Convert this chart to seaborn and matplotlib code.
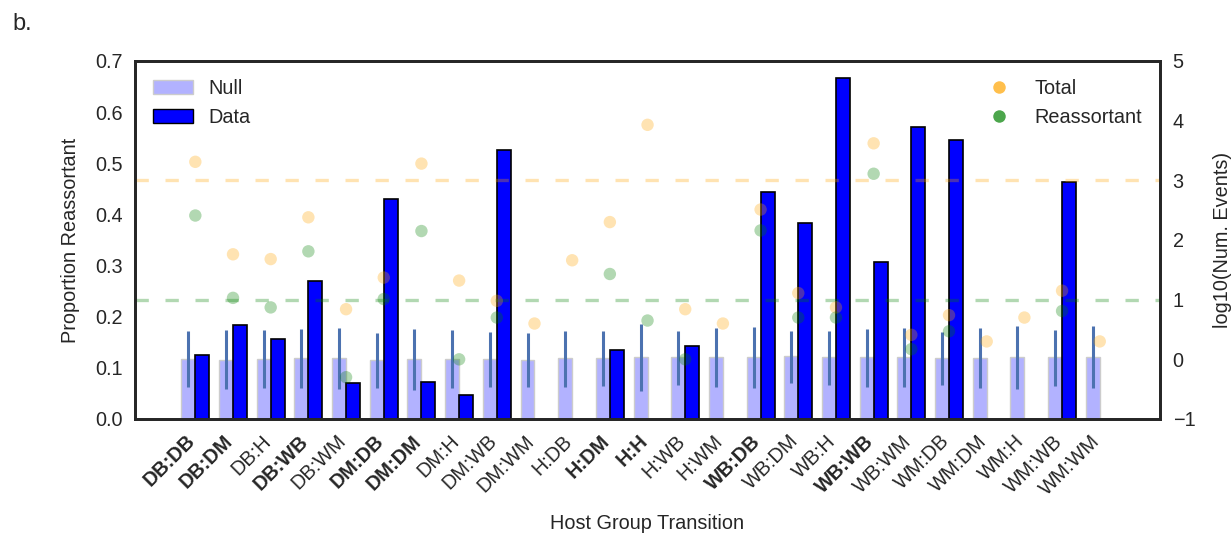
import numpy as np
import pandas as pd
import matplotlib
matplotlib.use("Agg")
import matplotlib.pyplot as plt
from matplotlib.lines import Line2D
from matplotlib.patches import Patch
import seaborn as sns

# Host group transitions (source:destination)
transitions = ["DB:DB", "DB:DM", "DB:H", "DB:WB", "DB:WM",
               "DM:DB", "DM:DM", "DM:H", "DM:WB", "DM:WM",
               "H:DB", "H:DM", "H:H", "H:WB", "H:WM",
               "WB:DB", "WB:DM", "WB:H", "WB:WB", "WB:WM",
               "WM:DB", "WM:DM", "WM:H", "WM:WB", "WM:WM"]
significant = ["DB:DB", "DB:DM", "DB:WB", "DM:DB", "DM:DM",
               "H:DM", "H:H", "WB:DB", "WB:WB"]

# Proportion reassortant under the null model, with its interval
null_prop = [0.117, 0.116, 0.117, 0.119, 0.119, 0.115, 0.117, 0.117, 0.117, 0.115,
             0.119, 0.119, 0.121, 0.121, 0.121, 0.122, 0.123, 0.121, 0.121, 0.121,
             0.119, 0.120, 0.121, 0.121, 0.122]
null_low = [0.062, 0.059, 0.061, 0.061, 0.059, 0.061, 0.057, 0.061, 0.063, 0.063,
            0.063, 0.065, 0.055, 0.066, 0.063, 0.061, 0.071, 0.066, 0.063, 0.063,
            0.066, 0.061, 0.059, 0.065, 0.060]
null_high = [0.172, 0.174, 0.174, 0.176, 0.177, 0.168, 0.176, 0.174, 0.170, 0.168,
             0.173, 0.172, 0.185, 0.173, 0.177, 0.180, 0.173, 0.173, 0.176, 0.177,
             0.170, 0.177, 0.182, 0.174, 0.182]

# Observed proportion reassortant (NaN where no events were observed)
data_prop = [0.125, 0.184, 0.157, 0.269, 0.071, 0.431, 0.072, 0.046, 0.526, np.nan,
             np.nan, 0.134, np.nan, 0.143, np.nan, 0.443, 0.384, 0.666, 0.306, 0.571,
             0.545, np.nan, np.nan, 0.463, np.nan]

# log10 of event counts
log_total = [3.31, 1.76, 1.68, 2.38, 0.84, 1.37, 3.28, 1.32, 0.98, 0.60,
             1.66, 2.30, 3.93, 0.84, 0.60, 2.51, 1.11, 0.87, 3.62, 0.41,
             0.74, 0.30, 0.70, 1.15, 0.30]
log_reassortant = [2.41, 1.03, 0.87, 1.81, -0.30, 1.01, 2.15, 0.00, 0.70, np.nan,
                   np.nan, 1.43, 0.65, 0.00, np.nan, 2.16, 0.70, 0.70, 3.11, 0.17,
                   0.47, np.nan, np.nan, 0.81, np.nan]

# Reference levels on the event-count axis
total_ref = 3.0
reassortant_ref = 1.0

sns.set_theme(style="white")
plt.rcParams["font.family"] = ["Liberation Sans", "DejaVu Sans"]
text_color = "#262626"
fs = 14.3

df = pd.DataFrame({
    "transition": transitions,
    "null": null_prop, "low": null_low, "high": null_high,
    "data": data_prop, "total": log_total, "reassortant": log_reassortant,
})
x = np.arange(len(df))
df["x"] = x
w = 0.37

fig = plt.figure(figsize=(12.32, 5.33), dpi=100)
ax = fig.add_axes([0.1096, 0.2139, 0.832, 0.6717])

ax.bar(x - w / 2, df["null"], width=w, color=(0, 0, 1, 0.3),
       edgecolor="#cccccc", linewidth=1.0, zorder=2)
ax.vlines(x - w / 2, df["low"], df["high"], color="#4c72b0", linewidth=2.2, zorder=3)
ax.bar(x + w / 2, df["data"], width=w, color="blue",
       edgecolor="black", linewidth=1.2, zorder=2)

ax.set_xlim(-1.6, 25.6)
ax.set_ylim(0, 0.7)
ax.set_yticks(np.arange(0, 0.71, 0.1))
ax.set_yticklabels([f"{v:.1f}" for v in np.arange(0, 0.71, 0.1)])
# label anchors sit slightly right of each group centre (ticks themselves are hidden)
ax.set_xticks(x + 0.1)
ax.set_xticklabels(transitions, rotation=45, ha="right")
for lab in ax.get_xticklabels():
    if lab.get_text() in significant:
        lab.set_fontweight("bold")
ax.tick_params(axis="both", length=0, labelsize=fs, colors=text_color)
ax.tick_params(axis="y", pad=9)
ax.tick_params(axis="x", pad=9)
ax.set_ylabel("Proportion Reassortant", fontsize=fs, color=text_color, labelpad=11)
ax.set_xlabel("Host Group Transition", fontsize=fs, color=text_color, labelpad=11)

ax2 = ax.twinx()
ax2.axhline(total_ref, color="orange", alpha=0.3, linewidth=2.4, dashes=(4, 5))
ax2.axhline(reassortant_ref, color="green", alpha=0.3, linewidth=2.4, dashes=(4, 5))
sns.scatterplot(data=df, x="x", y="total", ax=ax2, color="orange", alpha=0.3,
                s=80, edgecolor="none", legend=False, zorder=4)
sns.scatterplot(data=df, x="x", y="reassortant", ax=ax2, color="green", alpha=0.3,
                s=80, edgecolor="none", legend=False, zorder=4)
ax2.set_ylim(-1, 5)
ax2.set_yticks(np.arange(-1, 6, 1))
ax2.set_xlim(-1.6, 25.6)
ax2.set_xlabel("")
ax2.set_ylabel("log10(Num. Events)", fontsize=fs, color=text_color, labelpad=13)
ax2.tick_params(axis="y", length=0, labelsize=fs, colors=text_color, pad=9)

for a in (ax, ax2):
    for sp in a.spines.values():
        sp.set_visible(True)
        sp.set_color(text_color)
        sp.set_linewidth(2.0)

bar_handles = [Patch(facecolor=(0, 0, 1, 0.3), edgecolor="#cccccc", label="Null"),
               Patch(facecolor="blue", edgecolor="black", label="Data")]
leg1 = ax2.legend(handles=bar_handles, loc="upper left", frameon=False, fontsize=fs)
for t in leg1.get_texts():
    t.set_color(text_color)
ax2.add_artist(leg1)

dot_handles = [Line2D([], [], marker="o", linestyle="none", color="orange", alpha=0.7,
                      markersize=9, markeredgewidth=0, label="Total"),
               Line2D([], [], marker="o", linestyle="none", color="green", alpha=0.7,
                      markersize=9, markeredgewidth=0, label="Reassortant")]
leg2 = ax2.legend(handles=dot_handles, loc="upper right", frameon=False, fontsize=fs)
for t in leg2.get_texts():
    t.set_color(text_color)

fig.text(0.010, 0.975, "b.", fontsize=17, color=text_color, va="top", ha="left")

fig.savefig("out.png", dpi=100)
